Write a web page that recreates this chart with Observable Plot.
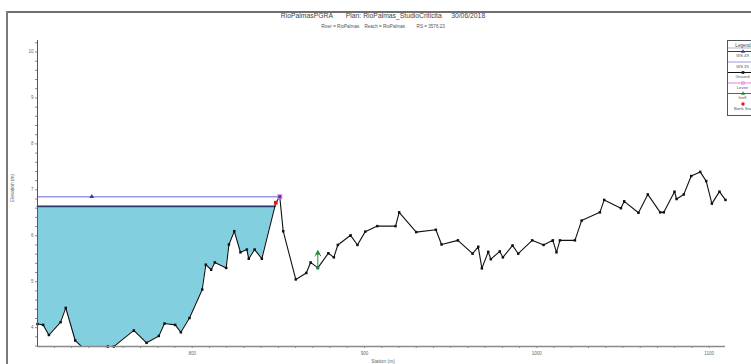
<!DOCTYPE html>
<html>
<head>
<meta charset="utf-8">
<script src="https://cdn.jsdelivr.net/npm/d3@7"></script>
<script src="https://cdn.jsdelivr.net/npm/@observablehq/plot@0.6"></script>
<style>
  html, body { margin: 0; padding: 0; background: #fff; }
  #page { position: relative; width: 751px; height: 364px; overflow: hidden; background: #fff;
          font-family: "Liberation Sans", Arial, sans-serif; }
  #page > svg.chart { position: absolute; left: 0; top: 0; }
  .frame-top { position: absolute; left: 7px; right: 0; top: 11px; height: 2px; background: #6e6e6e; }
  .frame-left { position: absolute; left: 6px; top: 11px; bottom: 0; width: 2px; background: #7a7a7a; }
  .title { position: absolute; left: 0; width: 766px; top: 12px; text-align: center; font-size: 6.8px; color: #444; white-space: pre; }
  .subtitle { position: absolute; left: 0; width: 766px; top: 23.5px; text-align: center; font-size: 4.6px; color: #555; white-space: pre; }
  .ylabel { position: absolute; left: 12px; top: 188px; transform: translate(-50%, -50%) rotate(-90deg); font-size: 4.8px; color: #666; white-space: nowrap; }
  .xlabel { position: absolute; left: 383px; top: 358.5px; transform: translateX(-50%); font-size: 4.8px; color: #666; white-space: nowrap; }
  #legend { position: absolute; left: 727px; top: 40px; }
</style>
</head>
<body>
<div id="page">
  <div class="frame-top"></div>
  <div class="frame-left"></div>
  <div class="title">RioPalmasPGRA       Plan: RioPalmas_StudioCriticita     30/06/2018</div>
  <div class="subtitle">River = RioPalmas    Reach = RioPalmas         RS = 3576.23</div>
  <div class="ylabel">Elevation (m)</div>
  <div class="xlabel">Station (m)</div>
</div>
<script>
// Cross-section ground profile (station, elevation in metres)
const station = [710.2, 713.5, 716.8, 723.6, 726.6, 732.1, 744.0, 751.0, 754.5, 766.1,
  773.5, 780.6, 783.9, 790.1, 793.4, 798.4, 805.8, 807.9, 811.0, 813.1,
  819.7, 821.3, 824.4, 828.0, 831.7, 832.8, 836.2, 840.4, 848.5, 850.8,
  852.8, 860.1, 866.2, 868.7, 872.9, 879.0, 882.2, 884.5, 891.9, 895.9,
  900.4, 907.4, 918.0, 920.1, 930.0, 941.4, 944.7, 954.2, 962.7, 966.0,
  968.1, 971.8, 973.3, 978.5, 980.3, 985.9, 989.2, 997.3, 1003.9, 1009.3,
  1011.4, 1013.4, 1022.1, 1026.0, 1036.6, 1039.1, 1048.8, 1050.7, 1059.0, 1064.4,
  1071.6, 1073.7, 1079.9, 1081.1, 1085.3, 1089.6, 1094.8, 1098.3, 1101.6, 1106.0, 1109.5];
const elevation = [4.08, 4.06, 3.84, 4.12, 4.43, 3.72, 3.30, 3.59, 3.59, 3.94,
  3.67, 3.82, 4.09, 4.06, 3.90, 4.21, 4.83, 5.37, 5.26, 5.42,
  5.30, 5.81, 6.10, 5.64, 5.70, 5.50, 5.70, 5.50, 6.72, 6.85,
  6.10, 5.05, 5.19, 5.42, 5.30, 5.62, 5.53, 5.80, 6.01, 5.80,
  6.09, 6.21, 6.21, 6.51, 6.08, 6.13, 5.81, 5.90, 5.61, 5.76,
  5.29, 5.65, 5.49, 5.66, 5.53, 5.79, 5.61, 5.90, 5.80, 5.90,
  5.64, 5.90, 5.90, 6.33, 6.51, 6.78, 6.60, 6.75, 6.50, 6.90,
  6.51, 6.51, 6.96, 6.80, 6.90, 7.30, 7.39, 7.19, 6.70, 6.96, 6.78];

// Water surface profiles
const wsNames = ["WS 49", "WS 35"];
const wsElevation = [6.64, 6.85];
const wsMarkerStation = [null, 741.7];

// Levee, bank station and ineffective flow markers
const leveeStation = [850.8];
const leveeElevation = [6.85];
const bankStation = [848.5];
const bankElevation = [6.72];
const ineffStation = [872.9];
const ineffElevation = [5.30];

// Axis ticks
const xTickLabels = [800, 900, 1000, 1100];
const yTickLabels = [4, 5, 6, 7, 8, 9, 10];

const xDomain = [710.2, 1109.5];
const yDomain = [3.59, 10.25];

const C = {
  ground: "#111",
  ws1: "#2c3a6c",
  ws2: "#9a9ae8",
  wsMark: "#2f3fa6",
  water: "#82cfdf",
  levee: "#e07fe0",
  ineff: "#1f8a3c",
  bank: "#e8141a",
  axis: "#8a8a8a",
  tick: "#6a6a6a"
};

const ground = station.map((s, i) => ({station: s, elev: elevation[i]}));

// Left-bank water extent: ground from the left edge until it first rises to the surface
function wetted(ws) {
  const pts = [];
  for (let i = 0; i < ground.length; i++) {
    const g = ground[i];
    if (g.elev < ws) { pts.push(g); continue; }
    const p = ground[i - 1];
    const t = (ws - p.elev) / (g.elev - p.elev);
    pts.push({station: p.station + t * (g.station - p.station), elev: ws});
    break;
  }
  return pts;
}

const water = wetted(wsElevation[0]);
const wsLines = wsElevation.map((ws, k) => {
  const w = wetted(ws);
  return [{station: w[0].station, elev: ws, k}, {station: w[w.length - 1].station, elev: ws, k}];
});
const wsMarks = wsMarkerStation.map((s, k) => s == null ? null : {station: s, elev: wsElevation[k]}).filter(Boolean);

const visibleGround = ground.filter(d => d.elev >= yDomain[0] - 0.01);
const levee = leveeStation.map((s, i) => ({station: s, elev: leveeElevation[i]}));
const bank = bankStation.map((s, i) => ({station: s, elev: bankElevation[i]}));
const ineff = ineffStation.map((s, i) => ({station: s, elev: ineffElevation[i]}));

const xMinor = d3.range(720, 1110, 10);
const yMinor = d3.range(18, 52).map(i => i / 5);

const chart = Plot.plot({
  width: 751,
  height: 364,
  marginLeft: 37,
  marginRight: 26,
  marginTop: 40,
  marginBottom: 18,
  style: {fontFamily: "Liberation Sans, Arial, sans-serif", fontSize: "4.5px", color: C.tick, background: "transparent", overflow: "visible"},
  x: {domain: xDomain, axis: null},
  y: {domain: yDomain, axis: null},
  marks: [
    Plot.areaY(water, {x: "station", y1: "elev", y2: wsElevation[0], fill: C.water, clip: true}),
    Plot.line(wsLines[1], {x: "station", y: "elev", stroke: C.ws2, strokeWidth: 1.6}),
    Plot.line(wsLines[0], {x: "station", y: "elev", stroke: C.ws1, strokeWidth: 1.8}),
    Plot.line(ground, {x: "station", y: "elev", stroke: C.ground, strokeWidth: 1.1, clip: true}),
    Plot.dot(visibleGround, {x: "station", y: "elev", symbol: "square", r: 1.4, fill: C.ground, stroke: "none"}),
    Plot.dot(wsMarks, {x: "station", y: "elev", symbol: "triangle", r: 1.8, fill: C.wsMark, stroke: "none"}),
    Plot.dot(bank, {x: "station", y: "elev", symbol: "square", r: 2.1, fill: C.bank, stroke: "none"}),
    Plot.dot(levee, {x: "station", y: "elev", symbol: "square", r: 2.8, fill: C.levee, stroke: "none"}),
    Plot.dot(levee, {x: "station", y: "elev", symbol: "square", r: 1.6, fill: C.wsMark, stroke: "none"}),
    Plot.vector(ineff, {x: "station", y: "elev", length: 15, anchor: "start", stroke: C.ineff, strokeWidth: 1}),
    Plot.dot(ineff, {x: "station", y: "elev", symbol: "triangle", r: 2, dy: -15, fill: C.ineff, stroke: "none"}),
    Plot.dot(ineff, {x: "station", y: "elev", symbol: "square", r: 1.6, fill: C.ineff, stroke: "none"}),
    // axes
    Plot.axisX(xMinor, {tickSize: 2, tickPadding: 3, stroke: C.axis, fill: C.tick,
      tickFormat: d => xTickLabels.includes(d) ? String(d) : "", label: null}),
    Plot.axisY(yMinor, {tickSize: 2, tickPadding: 2, stroke: C.axis, fill: C.tick,
      tickFormat: d => yTickLabels.includes(d) ? String(d) : "", label: null}),
    Plot.ruleY([yDomain[0]], {stroke: C.axis, strokeWidth: 1.6}),
    Plot.ruleX([xDomain[0]], {stroke: "#555", strokeWidth: 1})
  ]
});
chart.classList.add("chart");
document.getElementById("page").prepend(chart);

// Legend box
const legendItems = [
  {label: "WS 49", color: C.ws1, symbol: d3.symbolTriangle, markColor: C.wsMark},
  {label: "WS 35", color: C.ws2, symbol: null},
  {label: "Ground", color: C.ground, symbol: d3.symbolSquare, markColor: C.ground},
  {label: "Levee", color: C.levee, symbol: d3.symbolSquare, markColor: C.levee, hollow: true},
  {label: "Ineff", color: C.ineff, symbol: d3.symbolTriangle, markColor: C.ineff},
  {label: "Bank Sta", color: null, symbol: d3.symbolCircle, markColor: C.bank}
];
const lg = d3.select("#page").append("svg").attr("id", "legend")
  .attr("width", 24).attr("height", 78)
  .style("font-family", "Liberation Sans, Arial, sans-serif");
lg.append("rect").attr("x", 0.5).attr("y", 0.5).attr("width", 40).attr("height", 75)
  .attr("fill", "#fff").attr("stroke", "#555").attr("stroke-width", 1);
lg.append("text").attr("x", 16).attr("y", 6.5).attr("text-anchor", "middle")
  .attr("font-size", 4.6).attr("fill", "#444").text("Legend");
lg.append("line").attr("x1", 0).attr("x2", 30).attr("y1", 8).attr("y2", 8).attr("stroke", "#888").attr("stroke-width", 0.6);
legendItems.forEach((it, i) => {
  const y = 11.5 + i * 10.5;
  if (it.color) lg.append("line").attr("x1", 1).attr("x2", 30).attr("y1", y).attr("y2", y)
    .attr("stroke", it.color).attr("stroke-width", 1);
  if (it.symbol) lg.append("path").attr("transform", `translate(16,${y})`)
    .attr("d", d3.symbol(it.symbol, it.symbol === d3.symbolCircle ? 9 : 7)())
    .attr("fill", it.hollow ? "none" : it.markColor).attr("stroke", it.hollow ? it.markColor : "none").attr("stroke-width", 0.7);
  lg.append("text").attr("x", 15.5).attr("y", y + 5.8).attr("text-anchor", "middle")
    .attr("font-size", 4.2).attr("fill", "#555").text(it.label);
});
</script>
</body>
</html>
